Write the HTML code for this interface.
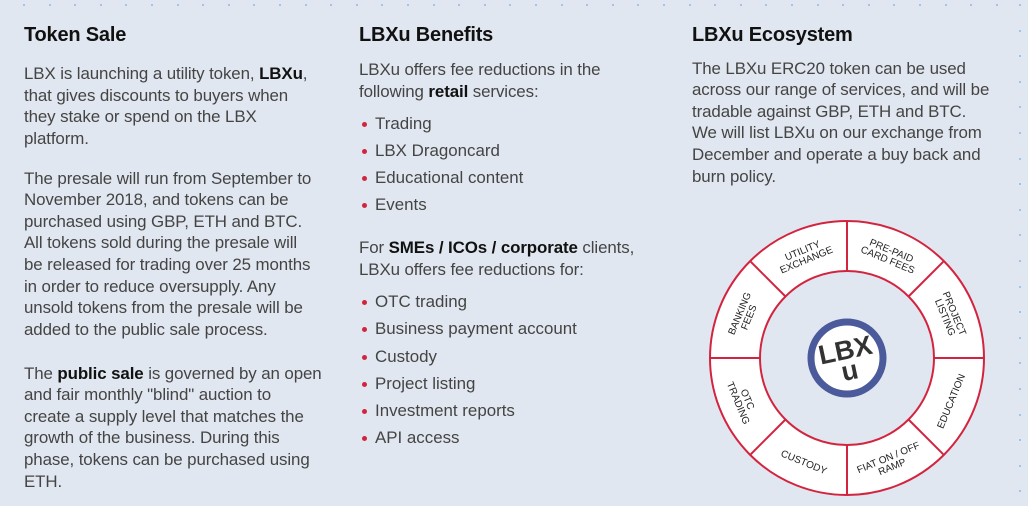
<!DOCTYPE html>
<html><head><meta charset="utf-8"><style>
*{margin:0;padding:0}
body{width:1028px;height:506px;background:#e1e7f0;position:relative;overflow:hidden;font-family:"Liberation Sans",sans-serif;color:#444}
.h{position:absolute;font-weight:bold;font-size:20px;color:#111;top:24px;letter-spacing:-0.2px}
.l{position:absolute;font-size:16.9px;white-space:nowrap;line-height:21.6px;height:21.6px;letter-spacing:-0.1px}
.l b{color:#111}
.bl{position:absolute;font-size:16.9px;white-space:nowrap;line-height:21.6px}
.bl:before{content:"";position:absolute;left:-13px;top:9px;width:5px;height:5px;border-radius:50%;background:#d3243f}
.dot{position:absolute;width:2px;height:2px;background:#9fc3ea}
</style></head><body>
<div id="dots"></div>
<div class="h" style="left:24px">Token Sale</div>
<div class="h" style="left:359px">LBXu Benefits</div>
<div class="h" style="left:692px">LBXu Ecosystem</div>

<div class="l" style="left:24px;top:63px">LBX is launching a utility token, <b>LBXu</b>,</div>
<div class="l" style="left:24px;top:85px">that gives discounts to buyers when</div>
<div class="l" style="left:24px;top:106px">they stake or spend on the LBX</div>
<div class="l" style="left:24px;top:128px">platform.</div>
<div class="l" style="left:24px;top:168px">The presale will run from September to</div>
<div class="l" style="left:24px;top:189px">November 2018, and tokens can be</div>
<div class="l" style="left:24px;top:211px">purchased using GBP, ETH and BTC.</div>
<div class="l" style="left:24px;top:232px">All tokens sold during the presale will</div>
<div class="l" style="left:24px;top:254px">be released for trading over 25 months</div>
<div class="l" style="left:24px;top:276px">in order to reduce oversupply. Any</div>
<div class="l" style="left:24px;top:297px">unsold tokens from the presale will be</div>
<div class="l" style="left:24px;top:319px">added to the public sale process.</div>
<div class="l" style="left:24px;top:363px">The <b>public sale</b> is governed by an open</div>
<div class="l" style="left:24px;top:384px">and fair monthly "blind" auction to</div>
<div class="l" style="left:24px;top:406px">create a supply level that matches the</div>
<div class="l" style="left:24px;top:427px">growth of the business. During this</div>
<div class="l" style="left:24px;top:449px">phase, tokens can be purchased using</div>
<div class="l" style="left:24px;top:471px">ETH.</div>

<div class="l" style="left:359px;top:59px">LBXu offers fee reductions in the</div>
<div class="l" style="left:359px;top:81px">following <b>retail</b> services:</div>
<div class="bl" style="left:375px;top:113px">Trading</div>
<div class="bl" style="left:375px;top:140px">LBX Dragoncard</div>
<div class="bl" style="left:375px;top:167px">Educational content</div>
<div class="bl" style="left:375px;top:194px">Events</div>
<div class="l" style="left:359px;top:237px">For <b>SMEs / ICOs / corporate</b> clients,</div>
<div class="l" style="left:359px;top:259px">LBXu offers fee reductions for:</div>
<div class="bl" style="left:375px;top:291px">OTC trading</div>
<div class="bl" style="left:375px;top:318px">Business payment account</div>
<div class="bl" style="left:375px;top:346px">Custody</div>
<div class="bl" style="left:375px;top:373px">Project listing</div>
<div class="bl" style="left:375px;top:400px">Investment reports</div>
<div class="bl" style="left:375px;top:427px">API access</div>

<div class="l" style="left:692px;top:58px">The LBXu ERC20 token can be used</div>
<div class="l" style="left:692px;top:79px">across our range of services, and will be</div>
<div class="l" style="left:692px;top:101px">tradable against GBP, ETH and BTC.</div>
<div class="l" style="left:692px;top:122px">We will list LBXu on our exchange from</div>
<div class="l" style="left:692px;top:144px">December and operate a buy back and</div>
<div class="l" style="left:692px;top:166px">burn policy.</div>

<svg style="position:absolute;left:0;top:0" width="1028" height="506">
<g transform="translate(847,358)">
<circle r="137" fill="#fff" stroke="#d3243f" stroke-width="2"/>
<circle r="87" fill="#e1e7f0" stroke="#d3243f" stroke-width="2"/>
<g stroke="#d3243f" stroke-width="2">
<line x1="87" y1="0" x2="137" y2="0"/><line x1="-87" y1="0" x2="-137" y2="0"/>
<line x1="0" y1="87" x2="0" y2="137"/><line x1="0" y1="-87" x2="0" y2="-137"/>
<line x1="61.5" y1="61.5" x2="96.9" y2="96.9"/><line x1="-61.5" y1="61.5" x2="-96.9" y2="96.9"/>
<line x1="61.5" y1="-61.5" x2="96.9" y2="-96.9"/><line x1="-61.5" y1="-61.5" x2="-96.9" y2="-96.9"/>
</g>
<circle r="36" fill="#fff" stroke="#4a5a9a" stroke-width="7"/>
<g transform="rotate(-12)" font-family="Liberation Sans,sans-serif" font-weight="bold" fill="#333" text-anchor="middle">
<text y="1" font-size="27">LBX</text><text y="22" font-size="27">u</text></g>
<g font-family="Liberation Sans,sans-serif" font-size="10" fill="#222" text-anchor="middle">
<g transform="rotate(-22.5) translate(0,-112)"><text y="-1">UTILITY</text><text y="9">EXCHANGE</text></g>
<g transform="rotate(22.5) translate(0,-112)"><text y="-1">PRE-PAID</text><text y="9">CARD FEES</text></g>
<g transform="rotate(67.5) translate(0,-112)"><text y="-1">PROJECT</text><text y="9">LISTING</text></g>
<g transform="rotate(-67.5) translate(0,-112)"><text y="-1">BANKING</text><text y="9">FEES</text></g>
<g transform="rotate(-67.5) translate(0,112)"><text y="4">EDUCATION</text></g>
<g transform="rotate(-22.5) translate(0,112)"><text y="-1">FIAT ON / OFF</text><text y="9">RAMP</text></g>
<g transform="rotate(22.5) translate(0,112)"><text y="4">CUSTODY</text></g>
<g transform="rotate(67.5) translate(0,112)"><text y="-1">OTC</text><text y="9">TRADING</text></g>
</g>
</g>
</svg>
<script>
var d=document.getElementById('dots'),h='';
for(var i=0;i<40;i++){var x=23+i*25.6;if(x<1015)h+='<div class="dot" style="left:'+x+'px;top:4px"></div>';}
for(var j=0;j<20;j++){var y=4+j*25.6;h+='<div class="dot" style="left:1019px;top:'+y+'px"></div>';}
d.innerHTML=h;
</script>
</body></html>
